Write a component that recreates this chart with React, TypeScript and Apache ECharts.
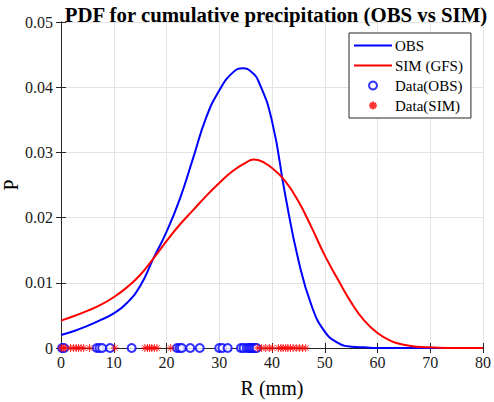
import React, { useEffect, useRef } from "react";
import * as echarts from "echarts";

const titleText = "PDF for cumulative precipitation (OBS vs SIM)";
const xTicks = [0, 10, 20, 30, 40, 50, 60, 70, 80];
const yTicks = [0, 0.01, 0.02, 0.03, 0.04, 0.05];

const obsCurveR = [0, 2.5, 5, 7.5, 10, 12.5, 15, 17.5, 20, 22.5, 25, 27.5, 30, 32.5, 34.5, 36, 37.5, 40, 42.5, 45, 47.5, 50, 52.5, 55, 57.5, 60, 65, 70, 75, 80];
const obsCurveP = [0.002, 0.0026, 0.0034, 0.0043, 0.0053, 0.0069, 0.0095, 0.0137, 0.0178, 0.0228, 0.029, 0.0353, 0.0395, 0.0422, 0.0429, 0.0424, 0.0408, 0.0348, 0.0235, 0.0135, 0.0065, 0.0025, 0.0008, 0.0002, 0.0001, 0, 0, 0, 0, 0];

const simCurveR = [0, 2.5, 5, 7.5, 10, 12.5, 15, 17.5, 20, 22.5, 25, 27.5, 30, 32.5, 35, 36.5, 37.5, 40, 42.5, 45, 47.5, 50, 52.5, 55, 57.5, 60, 62.5, 65, 67.5, 70, 75, 80];
const simCurveP = [0.0042, 0.0049, 0.0057, 0.0066, 0.0078, 0.0093, 0.0112, 0.0137, 0.0164, 0.0189, 0.0211, 0.0233, 0.0253, 0.0271, 0.0284, 0.0289, 0.0288, 0.0276, 0.0256, 0.0225, 0.0185, 0.0142, 0.0105, 0.007, 0.0042, 0.0023, 0.0011, 0.0005, 0.0002, 0.0001, 0, 0];

const obsData = [0.2, 0.6, 6.8, 7.3, 7.8, 9.3, 13.4, 22.0, 22.5, 22.9, 24.5, 26.3, 30.0, 30.6, 31.6, 34.1, 34.6, 35.2, 35.6, 35.9, 36.2, 36.5, 36.8, 37.1];
const simData = [0.1, 0.4, 0.8, 1.8, 2.4, 2.9, 3.3, 3.8, 4.3, 5.4, 10.2, 15.9, 16.4, 16.8, 17.2, 17.7, 18.2, 20.8, 37.3, 38.0, 38.8, 39.5, 40.1, 41.2, 41.7, 42.1, 42.6, 43.0, 43.5, 44.0, 44.6, 45.2, 45.8, 46.4];

const FONT = "Liberation Serif";
const STAR = "path://M5 0 L5 10 M0 5 L10 5 M1.5 1.5 L8.5 8.5 M8.5 1.5 L1.5 8.5";

export default function App() {
  const ref = useRef<HTMLDivElement>(null);
  useEffect(() => {
    if (!ref.current) return;
    const chart = echarts.init(ref.current, null, { renderer: "svg" });
    const axisCommon = {
      axisLine: { show: true, lineStyle: { color: "#262626", width: 1 } },
      axisTick: { show: true, inside: true, length: 5, lineStyle: { color: "#262626" } },
    };
    const labelStyle = { fontFamily: FONT, fontSize: 16, color: "#1a1a1a", fontWeight: "normal" };
    chart.setOption({
      animation: false,
      backgroundColor: "#ffffff",
      textStyle: { fontFamily: FONT },
      title: {
        text: titleText,
        left: 271,
        textAlign: "center",
        top: -1,
        textStyle: { fontFamily: FONT, fontWeight: "bold", fontSize: 20.8, color: "#000" },
      },
      grid: { left: 61, right: 11, top: 22, bottom: 54, show: false, containLabel: false, outerBoundsMode: "none" },
      legend: {
        orient: "vertical",
        left: 349,
        top: 33,
        padding: [5, 8, 5, 4],
        itemWidth: 38,
        itemHeight: 8,
        itemGap: 5,
        borderColor: "#262626",
        borderWidth: 1,
        backgroundColor: "#ffffff",
        textStyle: { fontFamily: FONT, fontSize: 15, color: "#000", lineHeight: 15, padding: [0, 0, 0, -2] },
        data: [
          { name: "OBS", itemStyle: { opacity: 0 } },
          { name: "SIM (GFS)", itemStyle: { opacity: 0 } },
          { name: "Data(OBS)" },
          { name: "Data(SIM)" },
        ],
      },
      xAxis: [
        {
          type: "value",
          min: 0,
          max: 80,
          interval: 10,
          name: "R (mm)",
          nameLocation: "middle",
          nameGap: 30,
          nameMoveOverlap: false,
          nameTextStyle: { fontFamily: FONT, fontSize: 20, color: "#000" },
          axisLabel: { ...labelStyle, margin: 6, formatter: (v: number) => (xTicks.includes(v) ? String(v) : "") },
          splitLine: { show: true, lineStyle: { color: "#e3e3e3" } },
          ...axisCommon,
        },
        {
          type: "value",
          position: "top",
          min: 0,
          max: 80,
          interval: 10,
          axisLabel: { show: false },
          splitLine: { show: false },
          ...axisCommon,
        },
      ],
      yAxis: [
        {
          type: "value",
          min: 0,
          max: 0.05,
          interval: 0.01,
          name: "P",
          nameLocation: "middle",
          nameGap: 40,
          nameMoveOverlap: false,
          nameTextStyle: { fontFamily: FONT, fontSize: 20, color: "#000" },
          axisLabel: {
            ...labelStyle,
            margin: 8,
            formatter: (v: number) => {
              const t = yTicks.find((y) => Math.abs(y - v) < 1e-9);
              return t === undefined ? "" : t === 0 ? "0" : t.toFixed(2);
            },
          },
          splitLine: { show: true, lineStyle: { color: "#e3e3e3" } },
          ...axisCommon,
        },
        {
          type: "value",
          position: "right",
          min: 0,
          max: 0.05,
          interval: 0.01,
          axisLabel: { show: false },
          splitLine: { show: false },
          ...axisCommon,
        },
      ],
      series: [
        {
          name: "OBS",
          type: "line",
          data: obsCurveR.map((r, i) => [r, obsCurveP[i]]),
          symbol: "none",
          smooth: 0.5,
          lineStyle: { color: "#0000ff", width: 2 },
          itemStyle: { color: "#0000ff" },
          z: 2,
        },
        {
          name: "SIM (GFS)",
          type: "line",
          data: simCurveR.map((r, i) => [r, simCurveP[i]]),
          symbol: "none",
          smooth: 0.5,
          lineStyle: { color: "#ff0000", width: 2 },
          itemStyle: { color: "#ff0000" },
          z: 2,
        },
        {
          name: "Data(OBS)",
          type: "scatter",
          data: obsData.map((r) => [r, 0]),
          symbol: "emptyCircle",
          symbolSize: 8,
          itemStyle: { color: "#0000ff", borderColor: "#0000ff", borderWidth: 1 },
          z: 3,
        },
        {
          name: "Data(SIM)",
          type: "scatter",
          data: simData.map((r) => [r, 0]),
          symbol: STAR,
          symbolSize: 8,
          itemStyle: { color: "#ff0000", borderColor: "#ff0000", borderWidth: 1 },
          z: 4,
        },
      ],
    });
    return () => chart.dispose();
  }, []);
  return <div ref={ref} style={{ width: 494, height: 402, position: "absolute", left: 0, top: 0 }} />;
}
